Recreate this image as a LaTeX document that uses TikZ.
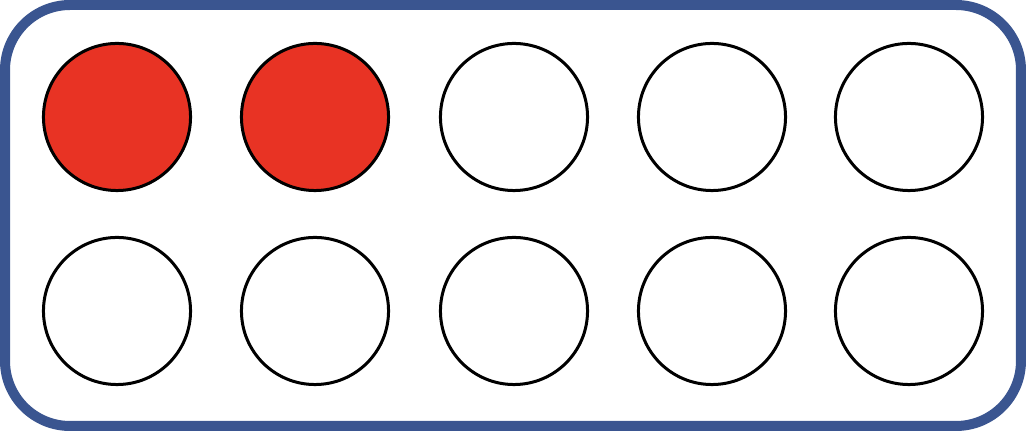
\documentclass[tikz,border=0pt]{standalone}
\usepackage{xcolor}
\usepackage{tikz}
\definecolor{frameblue}{RGB}{58,85,144}
\definecolor{counterred}{RGB}{232,51,36}
\tikzset{
  frame/.style={draw=frameblue,line width=0.1cm,rounded corners=0.65cm},
  slot/.style={circle,draw=black,line width=0.03cm,minimum size=1.47cm,inner sep=0pt},
  counter/.style={slot,fill=counterred},
}

\begin{document}
\begin{tikzpicture}[x=0.01cm,y=-0.01cm]
  \useasboundingbox (0,0) rectangle (1026,431);
  \draw[frame] (5,5) rectangle (1021,426);
  \foreach \i/\x in {1/117,2/315,3/514,4/712,5/909} {
    \node[slot] (b\i) at (\x,311) {};
    \ifnum\i<3
      \node[counter] (t\i) at (\x,117) {};
    \else
      \node[slot] (t\i) at (\x,117) {};
    \fi
  }
\end{tikzpicture}
\end{document}
